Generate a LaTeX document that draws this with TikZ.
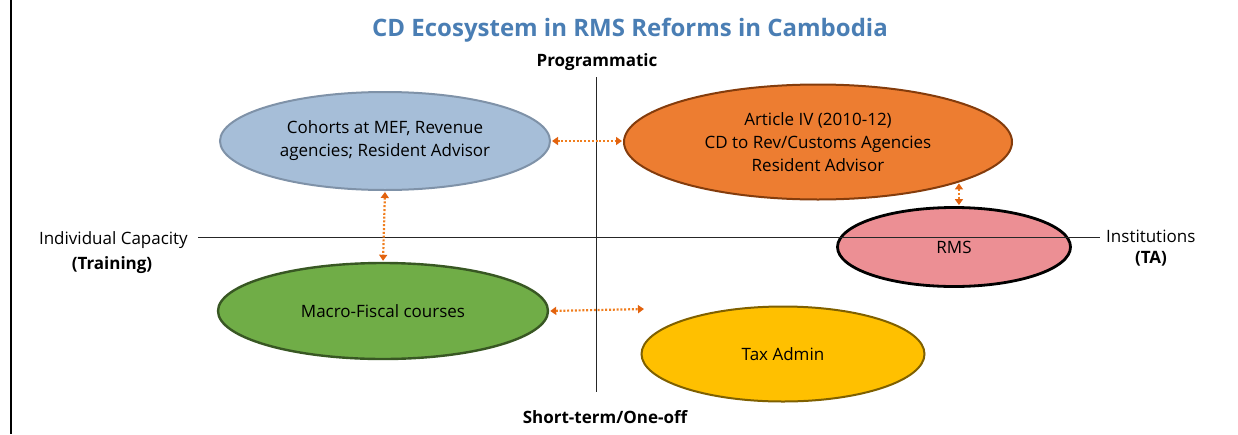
\documentclass[tikz,border=0pt]{standalone}
\usepackage{fontspec}
\setmainfont{Open Sans}
\usetikzlibrary{arrows.meta,shapes.geometric,calc}
\definecolor{titleblue}{HTML}{4A7EB4}
\definecolor{bluefill}{HTML}{A6BED8}
\definecolor{blueedge}{HTML}{7F92A8}
\definecolor{orangefill}{HTML}{ED7D31}
\definecolor{orangeedge}{HTML}{843C0C}
\definecolor{pinkfill}{HTML}{EC8F94}
\definecolor{greenfill}{HTML}{70AD47}
\definecolor{greenedge}{HTML}{385723}
\definecolor{yellowfill}{HTML}{FFC000}
\definecolor{yellowedge}{HTML}{7F6000}
\definecolor{arrowor}{HTML}{F07E1E}
\definecolor{arrowhead}{HTML}{E2620E}
\tikzset{
  blob/.style={ellipse, inner sep=0pt, align=center, font=\fontsize{17}{23}\selectfont},
  axislab/.style={inner sep=0pt, font=\fontsize{17}{20}\selectfont},
  axisbold/.style={inner sep=0pt, font=\fontsize{17}{20}\selectfont\bfseries},
  axisline/.style={draw=black!85, line width=1pt},
  link/.style={draw=arrowor, line width=2.2pt, dash pattern=on 2pt off 1.8pt,
    {Triangle[length=6pt,width=8pt,color=arrowhead]}-{Triangle[length=6pt,width=8pt,color=arrowhead]}, shorten <=1pt, shorten >=1pt},
}
\begin{document}
\begin{tikzpicture}[x=1pt,y=-1pt]
\useasboundingbox (0,0) rectangle (1238,434);
\draw[line width=2pt] (11,0) -- (11,434);
% title
\node[inner sep=0pt, font=\fontsize{24}{28}\selectfont\bfseries, text=titleblue] (title) at (630,30) {CD Ecosystem in RMS Reforms in Cambodia};
% axis labels
\node[axisbold] (prog) at (597,62) {Programmatic};
\node[axisbold] (short) at (605,417) {Short-term/One-off};
\node[axislab, anchor=east] (indiv) at (188,240) {Individual Capacity};
\node[axisbold] (train) at (112,265) {(Training)};
\node[axislab, anchor=west] (inst) at (1106,236) {Institutions};
\node[axisbold] (ta) at (1151,259) {(TA)};
% ellipses
\node[blob, fill=bluefill, draw=blueedge, line width=2pt, minimum width=330pt, minimum height=98pt] (blue) at (385,141) {Cohorts at MEF, Revenue\\agencies; Resident Advisor};
\node[blob, fill=orangefill, draw=orangeedge, line width=2pt, minimum width=388pt, minimum height=115pt] (orange) at (818,142) {Article IV (2010-12)\\CD to Rev/Customs Agencies\\Resident Advisor};
\node[blob, fill=pinkfill, draw=black, line width=2.8pt, minimum width=233pt, minimum height=79pt] (rms) at (954,247) {RMS};
\node[blob, fill=greenfill, draw=greenedge, line width=2.4pt, minimum width=330pt, minimum height=96pt] (green) at (383,311) {Macro-Fiscal courses};
\node[blob, fill=yellowfill, draw=yellowedge, line width=2pt, minimum width=283pt, minimum height=95pt] (yellow) at (783,354) {Tax Admin};
% axes
\coordinate (hL) at (198,237);
\coordinate (hR) at (1100,237);
\coordinate (vT) at (596,77);
\coordinate (vB) at (596,392);
\draw[axisline] (hL) -- (hR);
\draw[axisline] (vT) -- (vB);
% links
\coordinate (gEnd) at (645,309);
\draw[link] (blue.east) -- (blue.east -| orange.west);
\draw[link] (blue.south) -- (green.north);
\draw[link] (orange.-16.7) -- (orange.-16.7 |- rms.north);
\draw[link] (green.east) -- (gEnd);
\end{tikzpicture}
\end{document}
